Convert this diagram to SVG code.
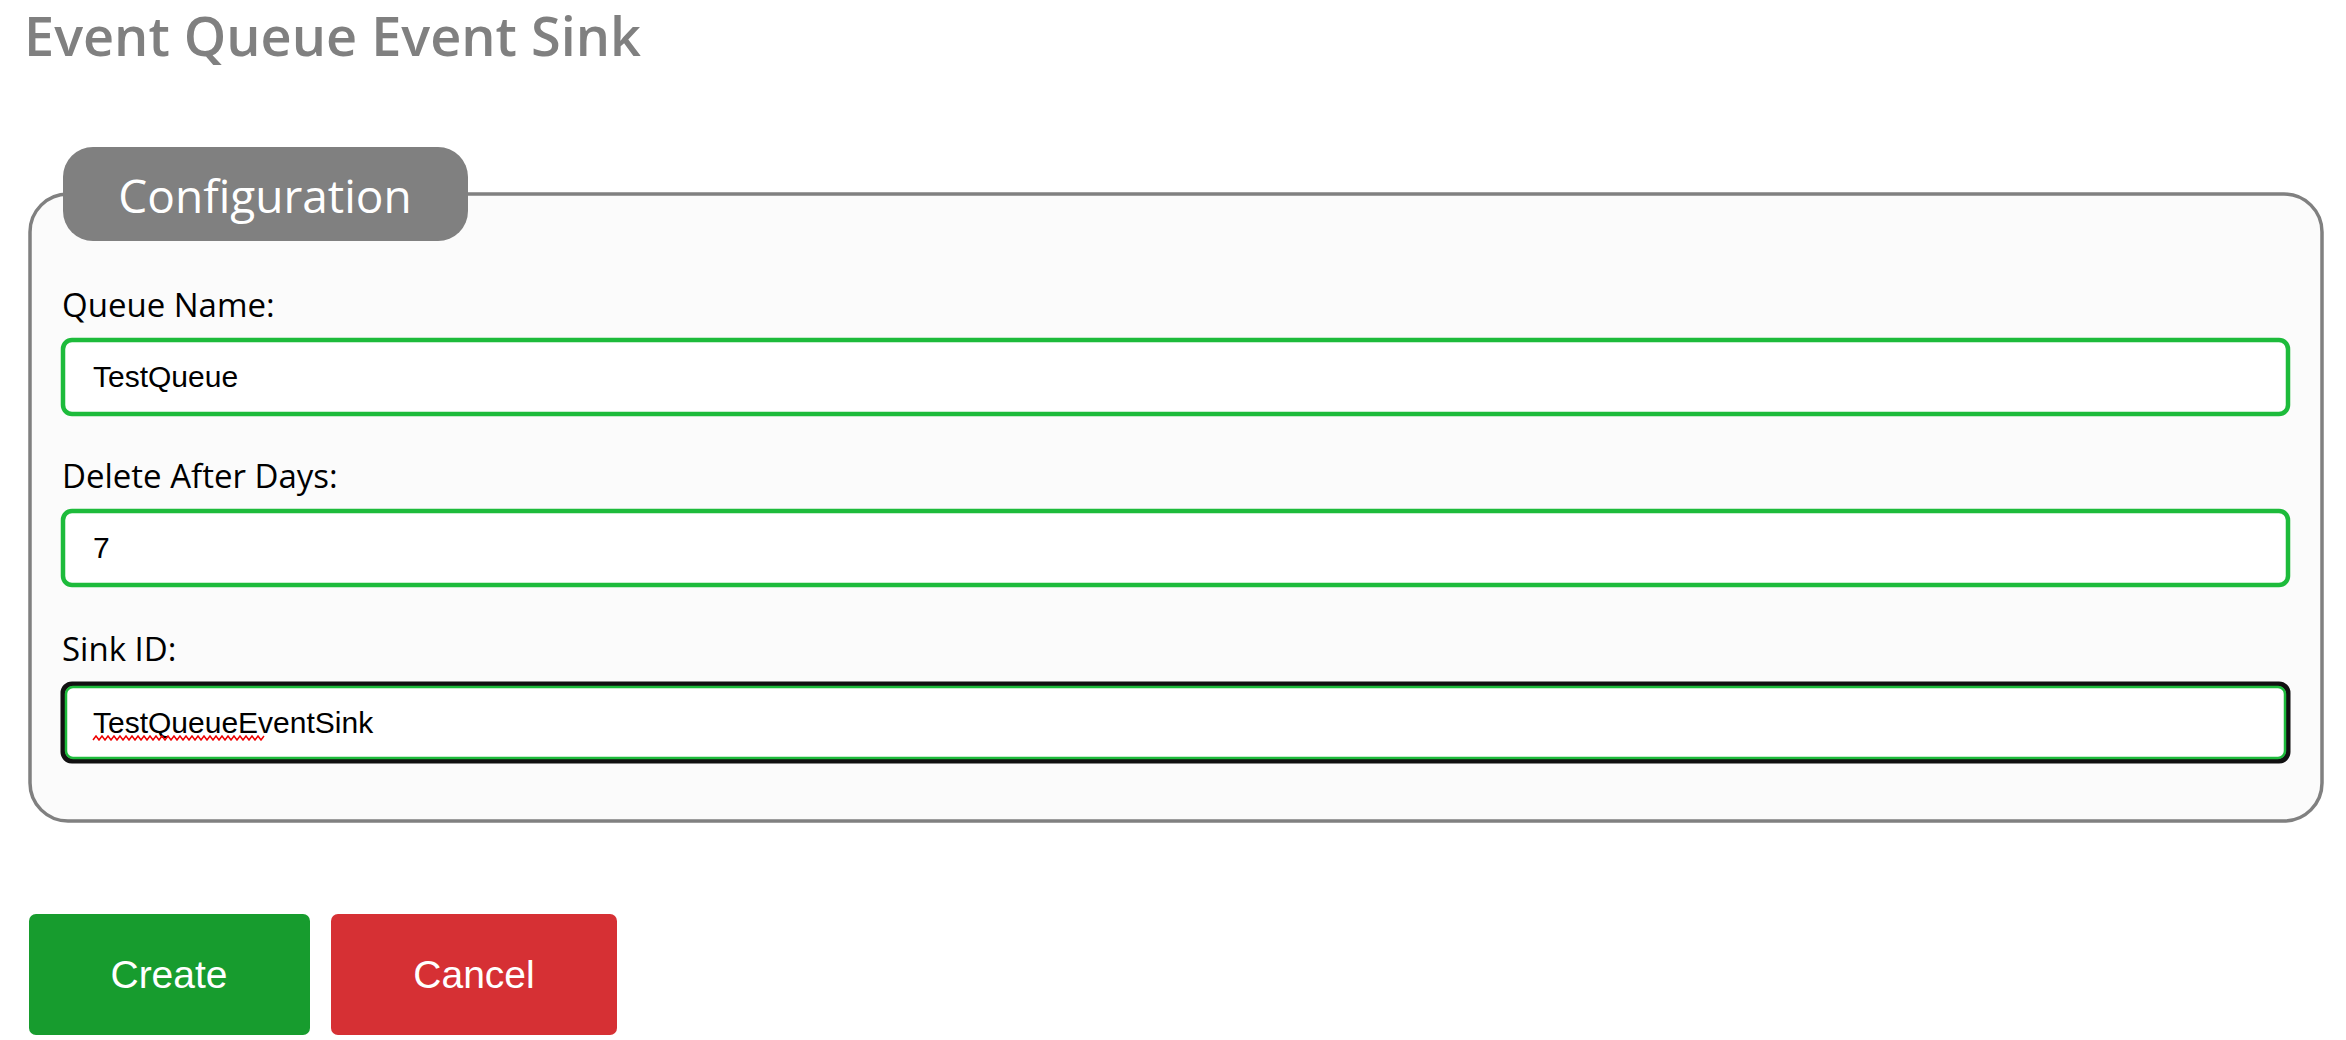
<svg xmlns="http://www.w3.org/2000/svg" width="2346" height="1040" viewBox="0 0 2346 1040">
<style>
.lbl{font-family:"Open Sans","Noto Sans",sans-serif;font-size:33px;fill:#000}
.inp{fill:#fff;stroke:#1dbb3b;stroke-width:4.5}
.val{font-family:"Liberation Sans",Arial,sans-serif;font-size:30px;fill:#000}
.btn{font-family:"Liberation Sans",Arial,sans-serif;font-size:39px;fill:#fff;text-anchor:middle}
</style>
<rect width="2346" height="1040" fill="#fff"/>
<g id="title"><text x="24" y="56" font-family="Open Sans,Noto Sans,sans-serif" font-weight="600" font-size="54" fill="#808080">Event Queue Event Sink</text></g>
<g id="fieldset">
<rect x="30" y="194" width="2292" height="627" rx="38" fill="#fbfbfb" stroke="#808080" stroke-width="3.5"/>
<rect x="63" y="147" width="405" height="94" rx="30" fill="#808080"/>
<text x="265" y="213" text-anchor="middle" font-family="Open Sans,Noto Sans,sans-serif" font-size="46" fill="#fff">Configuration</text>
</g>
<g id="queueName">
<text class="lbl" x="62" y="317">Queue Name:</text>
<rect class="inp" x="63" y="340" width="2225" height="74" rx="9"/>
<text class="val" x="93" y="387">TestQueue</text>
</g>
<g id="deleteDays">
<text class="lbl" x="62" y="488">Delete After Days:</text>
<rect class="inp" x="63" y="511" width="2225" height="74" rx="9"/>
<text class="val" x="93" y="558">7</text>
</g>
<g id="sinkId">
<text class="lbl" x="62" y="661">Sink ID:</text>
<rect x="63" y="684" width="2225" height="77" rx="9" fill="#fff" stroke="#111" stroke-width="5"/>
<rect x="66" y="687" width="2219" height="71" rx="7" fill="none" stroke="#1dbb3b" stroke-width="2.5"/>
<text class="val" x="93" y="733">TestQueueEventSink</text>
<polyline points="93,740 96,736 99,740 102,736 105,740 108,736 111,740 114,736 117,740 120,736 123,740 126,736 129,740 132,736 135,740 138,736 141,740 144,736 147,740 150,736 153,740 156,736 159,740 162,736 165,740 168,736 171,740 174,736 177,740 180,736 183,740 186,736 189,740 192,736 195,740 198,736 201,740 204,736 207,740 210,736 213,740 216,736 219,740 222,736 225,740 228,736 231,740 234,736 237,740 240,736 243,740 246,736 249,740 252,736 255,740 258,736 261,740 264,736" fill="none" stroke="#e00" stroke-width="1.5"/>
</g>
<g id="create">
<rect x="29" y="914" width="281" height="121" rx="7" fill="#179c2e"/>
<text class="btn" x="169" y="988">Create</text>
</g>
<g id="cancel">
<rect x="331" y="914" width="286" height="121" rx="7" fill="#d63034"/>
<text class="btn" x="474" y="988">Cancel</text>
</g>
<g id="connectors"/>
</svg>
